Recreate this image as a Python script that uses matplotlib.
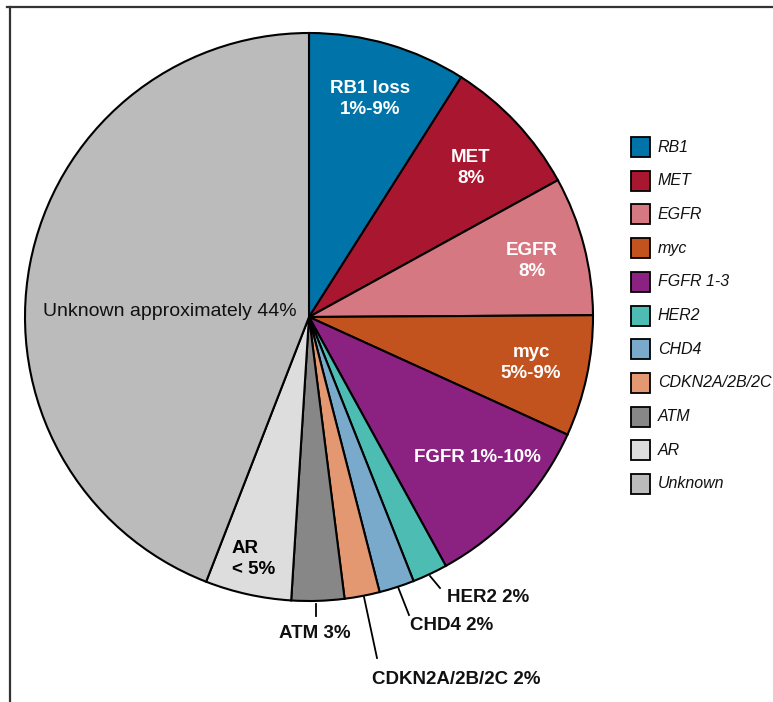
import matplotlib
matplotlib.use("Agg")
import matplotlib.pyplot as plt
from matplotlib.patches import Rectangle
from matplotlib.lines import Line2D

plt.rcParams['font.family'] = ['Liberation Sans', 'DejaVu Sans']

# slice data, clockwise from 12 o'clock (percent)
genes = ['RB1', 'MET', 'EGFR', 'myc', 'FGFR 1-3', 'HER2', 'CHD4',
         'CDKN2A/2B/2C', 'ATM', 'AR', 'Unknown']
shares = [9.0, 8.0, 7.9, 6.9, 10.2, 2.0, 2.0, 2.0, 3.0, 4.9, 44.1]
colors = ['#0074A8', '#A8172F', '#D67882', '#C2531F', '#8B2282', '#4DBCB3',
          '#7AAACB', '#E49872', '#878787', '#DDDDDD', '#BABBBA']

# labels written on the slices
inner_labels = ['RB1 loss\n1%-9%', 'MET\n8%', 'EGFR\n8%', 'myc\n5%-9%', 'FGFR 1%-10%']
inner_pos = [(370, 99), (471, 168), (532, 261), (531, 363), (477, 457)]

# labels outside the pie with leader lines
outer_labels = ['HER2 2%', 'CHD4 2%', 'CDKN2A/2B/2C 2%', 'ATM 3%']
outer_text = [(447, 597), (410, 626), (372, 679), (279, 633)]
outer_lead = [((430, 576), (440, 588)), ((398, 587), (409, 615)),
              ((364, 597), (377, 658)), ((316, 604), (316, 616))]

W, H = 773, 702
fig = plt.figure(figsize=(W / 100, H / 100), dpi=100)
ax = fig.add_axes([0, 0, 1, 1])


def py(y):
    # picture y (from top) to axes y
    return H - y


ax.pie(shares, colors=colors, startangle=90, counterclock=False,
       center=(309, py(317)), radius=284, frame=True,
       wedgeprops=dict(edgecolor='black', linewidth=1.5))
ax.set_xlim(0, W)
ax.set_ylim(0, H)
ax.axis('off')

for txt, (x, y) in zip(inner_labels, inner_pos):
    ax.text(x, py(y), txt, color='white', fontsize=13.5, fontweight='bold',
            ha='center', va='center', linespacing=1.35)

ax.text(232, py(559), 'AR\n< 5%', color='black', fontsize=13.5,
        fontweight='bold', ha='left', va='center', linespacing=1.35)
ax.text(170, py(311), 'Unknown approximately 44%', color='#111111',
        fontsize=14, ha='center', va='center')

for txt, (x, y), (p0, p1) in zip(outer_labels, outer_text, outer_lead):
    ax.plot([p0[0], p1[0]], [py(p0[1]), py(p1[1])], color='black', lw=1.3)
    ax.text(x, py(y), txt, color='#111111', fontsize=13.5, fontweight='bold',
            ha='left', va='center')

# legend on the right
for i, (g, c) in enumerate(zip(genes, colors)):
    yc = 147 + i * 33.7
    ax.add_patch(Rectangle((631, py(yc + 10)), 19, 20, facecolor=c,
                           edgecolor='black', linewidth=1.3))
    ax.text(658, py(yc), g, fontsize=11.5, style='italic', color='#111111',
            ha='left', va='center')

# frame lines (top and left)
fig.add_artist(Line2D([7 / W, 1], [1 - 7 / H, 1 - 7 / H], color='#333333', lw=1.6))
fig.add_artist(Line2D([10 / W, 10 / W], [0, 1 - 7 / H], color='#333333', lw=1.6))

fig.savefig('out.png', dpi=100)
